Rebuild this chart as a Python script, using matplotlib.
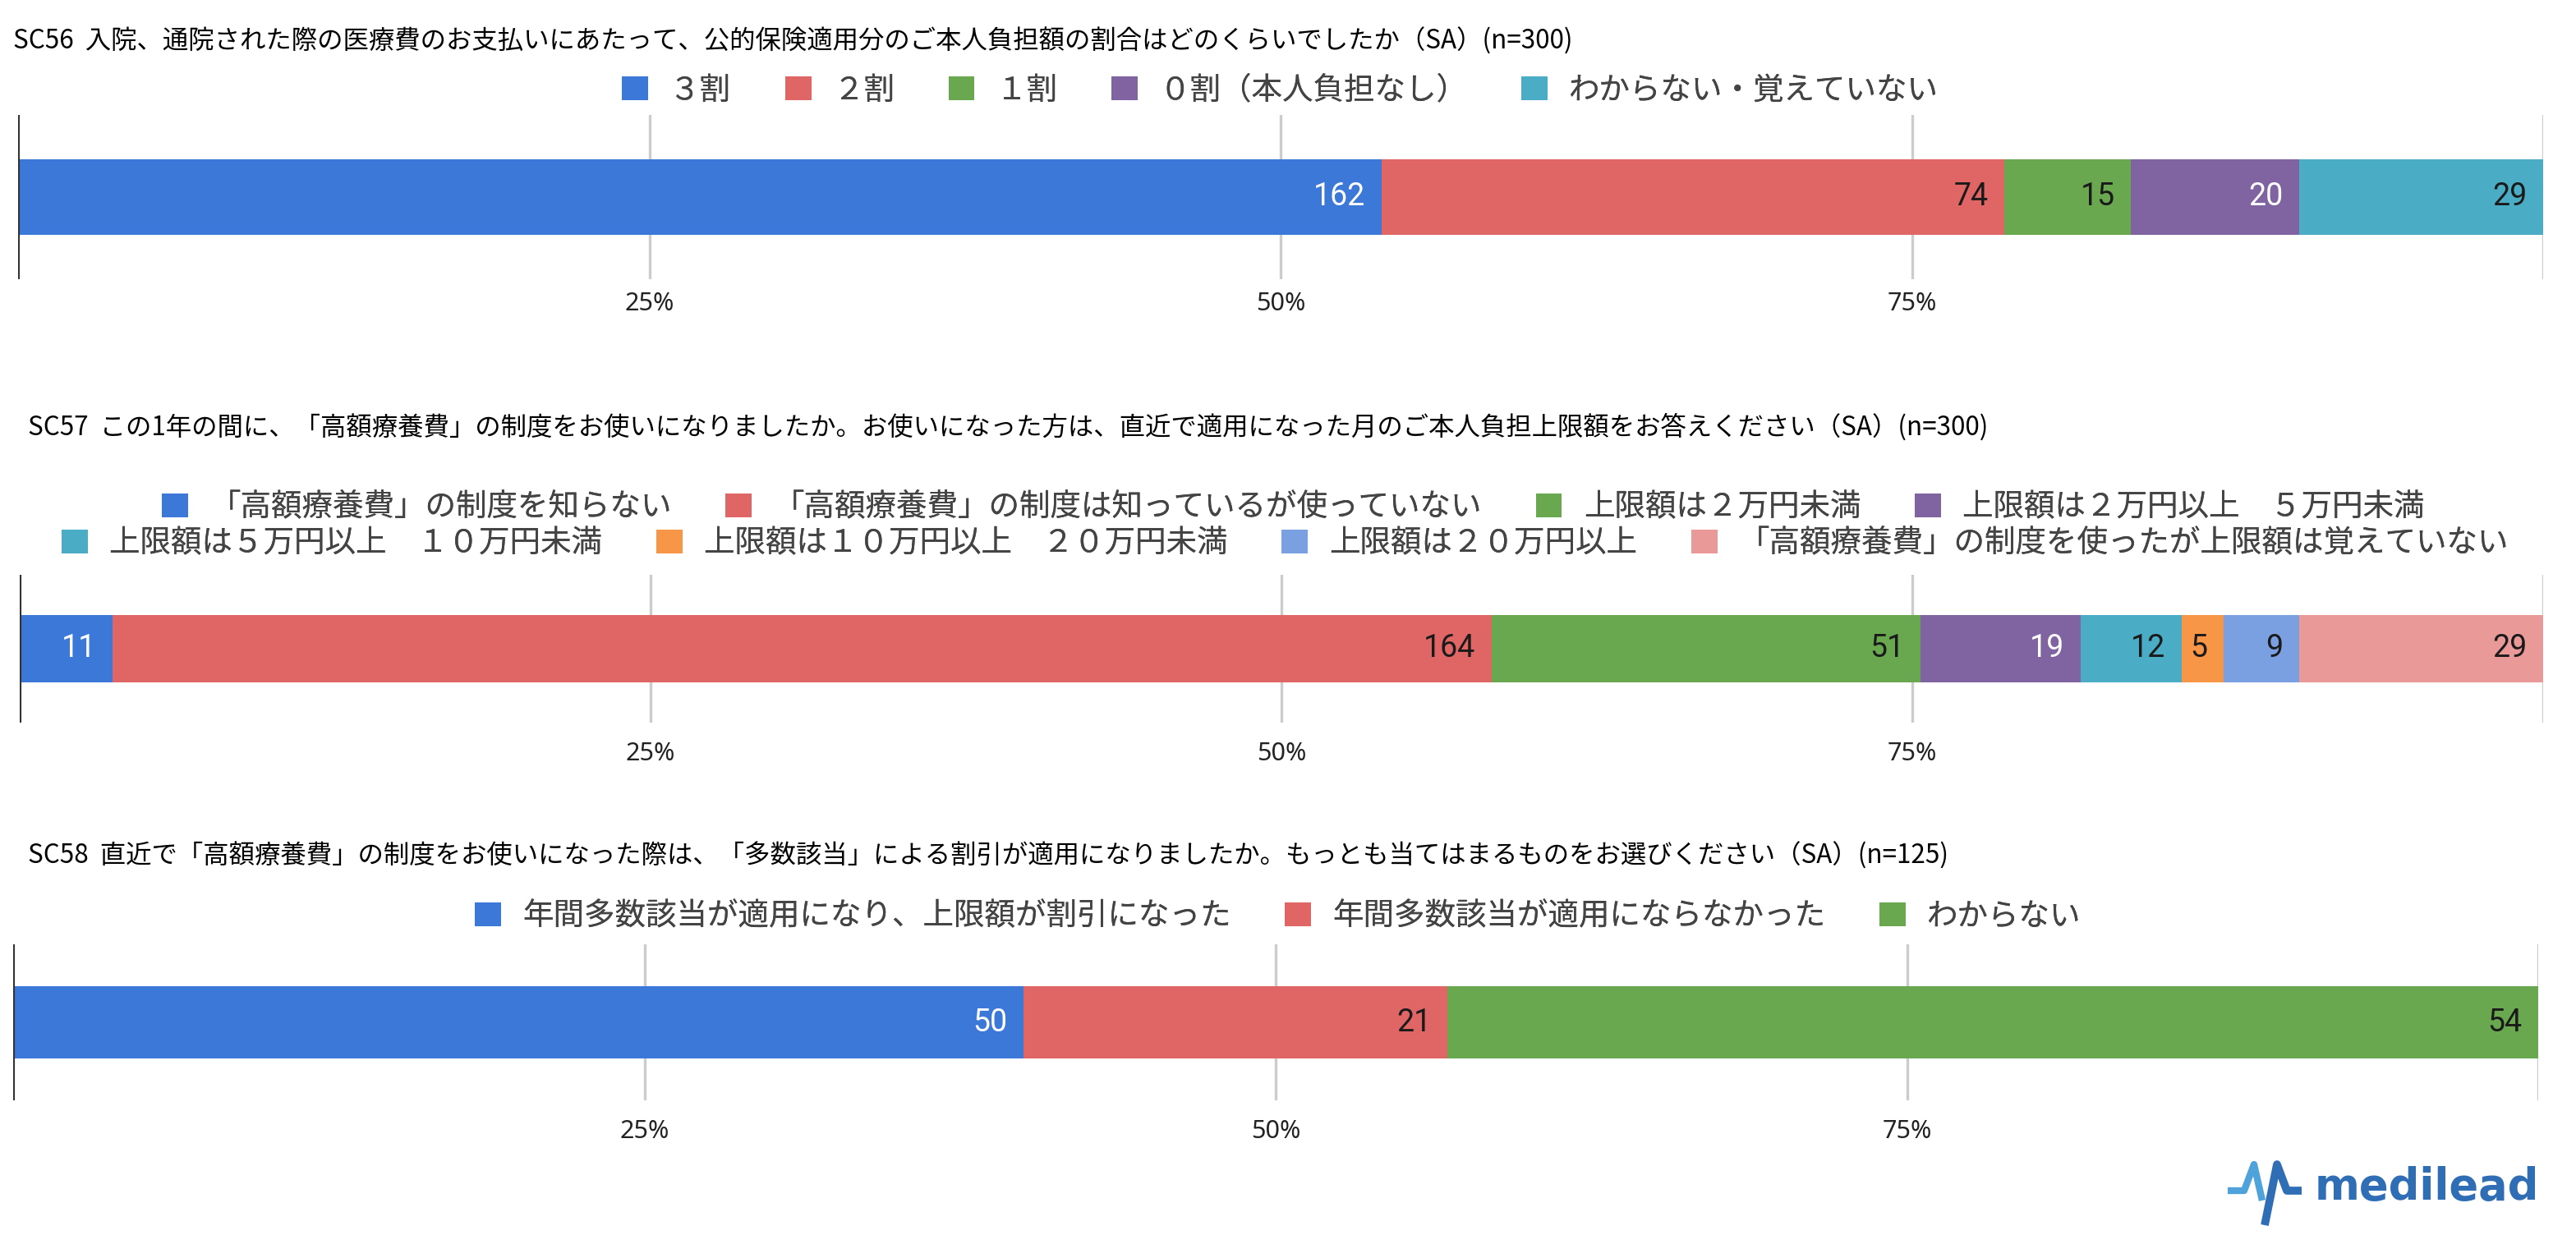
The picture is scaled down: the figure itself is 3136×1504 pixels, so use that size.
import matplotlib
matplotlib.use("Agg")
import matplotlib.pyplot as plt
from matplotlib.patches import Patch
from matplotlib.lines import Line2D

plt.rcParams['font.family'] = ['Noto Sans CJK JP', 'DejaVu Sans']

W, H = 3136, 1504

# data
titles = [
    "SC56  入院、通院された際の医療費のお支払いにあたって、公的保険適用分のご本人負担額の割合はどのくらいでしたか（SA）(n=300)",
    "SC57  この1年の間に、「高額療養費」の制度をお使いになりましたか。お使いになった方は、直近で適用になった月のご本人負担上限額をお答えください（SA）(n=300)",
    "SC58  直近で「高額療養費」の制度をお使いになった際は、「多数該当」による割引が適用になりましたか。もっとも当てはまるものをお選びください（SA）(n=125)",
]

sc56_labels = ["３割", "２割", "１割", "０割（本人負担なし）", "わからない・覚えていない"]
sc56_values = [162, 74, 15, 20, 29]

sc57_labels = ["「高額療養費」の制度を知らない", "「高額療養費」の制度は知っているが使っていない",
               "上限額は２万円未満", "上限額は２万円以上　５万円未満",
               "上限額は５万円以上　１０万円未満", "上限額は１０万円以上　２０万円未満",
               "上限額は２０万円以上", "「高額療養費」の制度を使ったが上限額は覚えていない"]
sc57_values = [11, 164, 51, 19, 12, 5, 9, 29]

sc58_labels = ["年間多数該当が適用になり、上限額が割引になった", "年間多数該当が適用にならなかった", "わからない"]
sc58_values = [50, 21, 54]

tick_vals = [0.25, 0.5, 0.75]
tick_labels = ["25%", "50%", "75%"]

colors = ["#3c78d8", "#e06666", "#6aa84f", "#8064a2", "#4bacc6", "#f79646", "#7ba0e2", "#ea9999"]
white_text = ["#3c78d8", "#8064a2"]

fig = plt.figure(figsize=(W / 200, H / 200), dpi=200)


def px(x0, y0, x1, y1):
    # pixel box (top-left origin) -> figure fraction rect
    return [x0 / W, 1 - y1 / H, (x1 - x0) / W, (y1 - y0) / H]


def draw_bar(rect, values, label_off):
    ax = fig.add_axes(rect)
    total = sum(values)
    left = 0.0
    for i, v in enumerate(values):
        frac = v / total
        c = colors[i]
        ax.barh(0, frac, left=left, height=0.46, color=c, zorder=2)
        ax.annotate(str(v), (left + frac, 0), xytext=(-7, 0), textcoords="offset points",
                    ha="right", va="center", fontsize=13.5, family="Roboto",
                    color="white" if c in white_text else "#1a1a1a", zorder=3)
        left += frac
    ax.set_xlim(0, 1)
    ax.set_ylim(-0.5, 0.5)
    for s in ax.spines.values():
        s.set_visible(False)
    ax.set_xticks([])
    ax.set_yticks([])
    for t in tick_vals + [1.0]:
        ax.axvline(t, color="#cccccc", lw=1.2, zorder=1)
    ax.axvline(0, color="#333333", lw=1.5, zorder=4)
    for t, lab in zip(tick_vals, tick_labels):
        ax.text(t, -label_off, lab, transform=ax.get_xaxis_transform(), ha="center", va="center",
                fontsize=11, family="Noto Sans", color="#222222")
    return ax


def legend(labels, cols, y, xc=0.497):
    handles = [Patch(facecolor=c, edgecolor="none") for c in cols]
    lg = fig.legend(handles, labels, loc="center", bbox_to_anchor=(xc, 1 - y / H),
                    ncol=len(labels), frameon=False, fontsize=13.5,
                    handlelength=0.85, handleheight=0.85, handletextpad=0.7,
                    columnspacing=1.75, labelcolor="#444444", borderaxespad=0)
    fig.add_artist(lg)


# SC56
draw_bar(px(22, 140, 3096, 340), sc56_values, 30 / 200)
fig.text(16 / W, 1 - 50 / H, titles[0], ha="left", va="center", fontsize=11.3, color="black")
legend(sc56_labels, colors[:5], 110)

# SC57
draw_bar(px(24, 700, 3096, 880), sc57_values, 38 / 180)
fig.text(34 / W, 1 - 520 / H, titles[1], ha="left", va="center", fontsize=11.3, color="black")
legend(sc57_labels[:4], colors[:4], 618, 0.502)
legend(sc57_labels[4:], colors[4:8], 662, 0.499)

# SC58
draw_bar(px(16, 1150, 3090, 1340), sc58_values, 38 / 190)
fig.text(34 / W, 1 - 1042 / H, titles[2], ha="left", va="center", fontsize=11.3, color="black")
legend(sc58_labels, colors[:3], 1116, 0.496)

# logo
logo_blue = "#2f6db5"
fig.text(2818 / W, 1 - 1446 / H, "medilead", ha="left", va="center", fontsize=19,
         family="DejaVu Sans", weight="bold", color=logo_blue)
fig.add_artist(Line2D([2712 / W, 2732 / W, 2744 / W, 2754 / W],
                      [1 - 1450 / H, 1 - 1450 / H, 1 - 1418 / H, 1 - 1462 / H],
                      color="#4fa3db", lw=3, solid_capstyle="butt"))
fig.add_artist(Line2D([2757 / W, 2772 / W, 2784 / W, 2802 / W],
                      [1 - 1492 / H, 1 - 1418 / H, 1 - 1450 / H, 1 - 1450 / H],
                      color=logo_blue, lw=3.5, solid_capstyle="butt"))

fig.savefig("out.png", dpi=200, facecolor="white")
